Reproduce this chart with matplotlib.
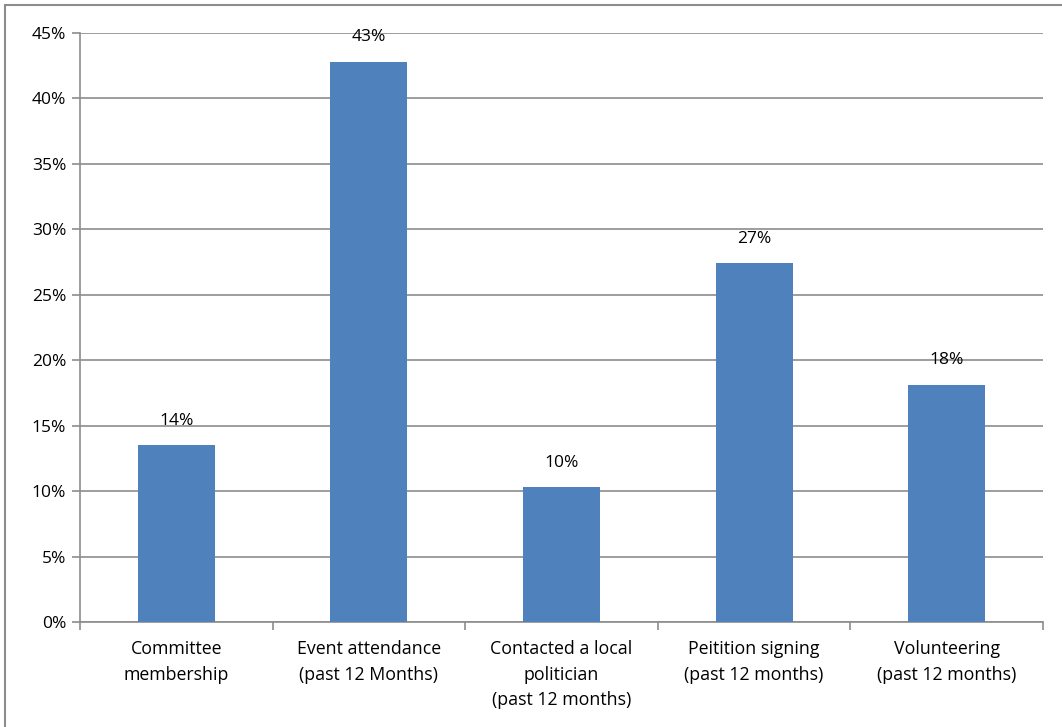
import matplotlib.pyplot as plt
from matplotlib.patches import Rectangle
from matplotlib.ticker import MultipleLocator, FuncFormatter

plt.rcParams['font.family'] = ['Open Sans', 'DejaVu Sans']

categories = ["Committee\nmembership",
              "Event attendance\n(past 12 Months)",
              "Contacted a local\npolitician\n(past 12 months)",
              "Peitition signing\n(past 12 months)",
              "Volunteering\n(past 12 months)"]
values = [13.5, 42.8, 10.3, 27.4, 18.1]
labels = ["14%", "43%", "10%", "27%", "18%"]

fig = plt.figure(figsize=(10.62, 7.27), dpi=100)
ax = fig.add_axes([80 / 1062, 1 - 622 / 727, 963 / 1062, 589 / 727])

x = list(range(len(values)))
ax.bar(x, values, width=0.4, color="#4F81BD", zorder=3)

for xi, v, lab in zip(x, values, labels):
    ax.annotate(lab, (xi, v), xytext=(0, 12), textcoords="offset points",
                ha="center", va="bottom", fontsize=12.5, color="black")

ax.set_xlim(-0.5, len(values) - 0.5)
ax.set_ylim(0, 45)
ax.yaxis.set_major_locator(MultipleLocator(5))
ax.yaxis.set_major_formatter(FuncFormatter(lambda v, p: "%d%%" % v))
ax.grid(axis="y", color="#8c8c8c", linewidth=1.2, zorder=0)

ax.set_xticks(x)
ax.set_xticklabels(categories, fontsize=12.8, linespacing=1.55)
ax.set_xticks([i + 0.5 for i in range(-1, len(values))], minor=True)
ax.tick_params(axis="x", which="major", length=0, pad=13)
ax.tick_params(axis="x", which="minor", length=6, color="#8c8c8c", width=1.2)
ax.tick_params(axis="y", length=6, color="#8c8c8c", width=1.2, labelsize=12.5, pad=4)

for s in ["top", "right"]:
    ax.spines[s].set_visible(False)
for s in ["left", "bottom"]:
    ax.spines[s].set_color("#8c8c8c")
    ax.spines[s].set_linewidth(1.2)

fig.patches.append(Rectangle((5 / 1062, -0.1), 1.2, 1 - 5 / 727 + 0.1,
                             transform=fig.transFigure, fill=False,
                             edgecolor="#8c8c8c", linewidth=1.5))

fig.savefig("out.png", dpi=100)
